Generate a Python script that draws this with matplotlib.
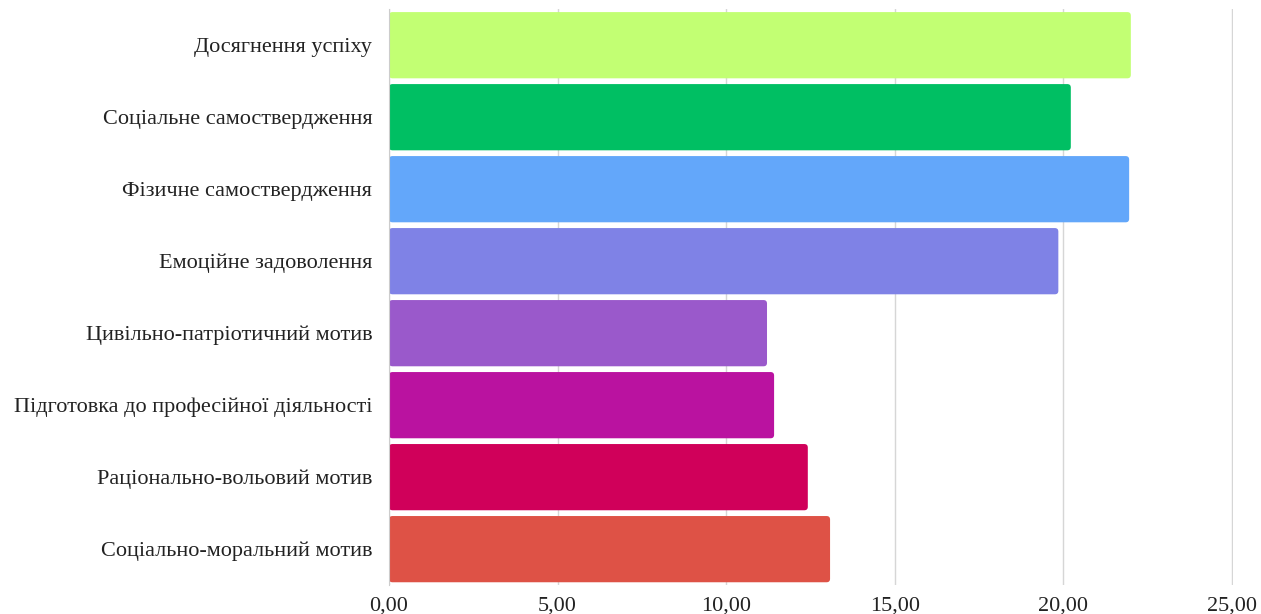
import matplotlib
matplotlib.use('Agg')
import matplotlib.pyplot as plt
from matplotlib.patches import FancyBboxPatch

# data
motives = ['Досягнення успіху', 'Соціальне самоствердження', 'Фізичне самоствердження',
           'Емоційне задоволення', 'Цивільно-патріотичний мотив',
           'Підготовка до професійної діяльності', 'Раціонально-вольовий мотив',
           'Соціально-моральний мотив']
scores = [22.00, 20.22, 21.95, 19.85, 11.21, 11.42, 12.42, 13.08]
colors = ['#C2FF73', '#00BF63', '#63A7FA', '#7F82E6', '#9A59CB', '#BA12A0', '#D0005A', '#DE5246']
xticks = [0, 5, 10, 15, 20, 25]
xticklabels = ['0,00', '5,00', '10,00', '15,00', '20,00', '25,00']

plt.rcParams['font.family'] = ['Liberation Serif', 'DejaVu Serif']

fig = plt.figure(figsize=(12.61, 6.14), dpi=100)
ax = fig.add_axes([0.3085, 0.047, 0.6693, 0.938])

ypos = list(range(len(motives)))
bars = ax.barh(ypos, scores, height=0.92, color=colors)

# swap plain rectangles for slightly rounded ones
ax.set_xlim(0, 25.03)
ax.set_ylim(len(motives) - 0.5, -0.5)
px_x = 0.6693 * 1261 / 25
px_y = 0.938 * 614 / len(motives)
for b in bars:
    x, y = b.get_x(), b.get_y()
    w, h = b.get_width(), b.get_height()
    p = FancyBboxPatch((x, y), w, h, boxstyle='round,pad=0,rounding_size=%f' % (3.5 / px_x),
                       mutation_aspect=px_x / px_y, facecolor=b.get_facecolor(),
                       edgecolor='none', zorder=3)
    b.remove()
    ax.add_patch(p)

ax.set_yticks(ypos)
ax.set_yticklabels(motives, fontsize=16, color='#222222')
ax.set_xticks(xticks)
ax.set_xticklabels(xticklabels, fontsize=16, color='#222222')
ax.tick_params(length=0, pad=8)
ax.tick_params(axis='y', pad=12)
ax.grid(axis='x', color='#d6d6d6', linewidth=1, zorder=0)
ax.set_axisbelow(True)
for s in ['top', 'right', 'bottom']:
    ax.spines[s].set_visible(False)
ax.spines['left'].set_color('#cccccc')
ax.spines['left'].set_zorder(4)

fig.savefig('out.png', dpi=100)
